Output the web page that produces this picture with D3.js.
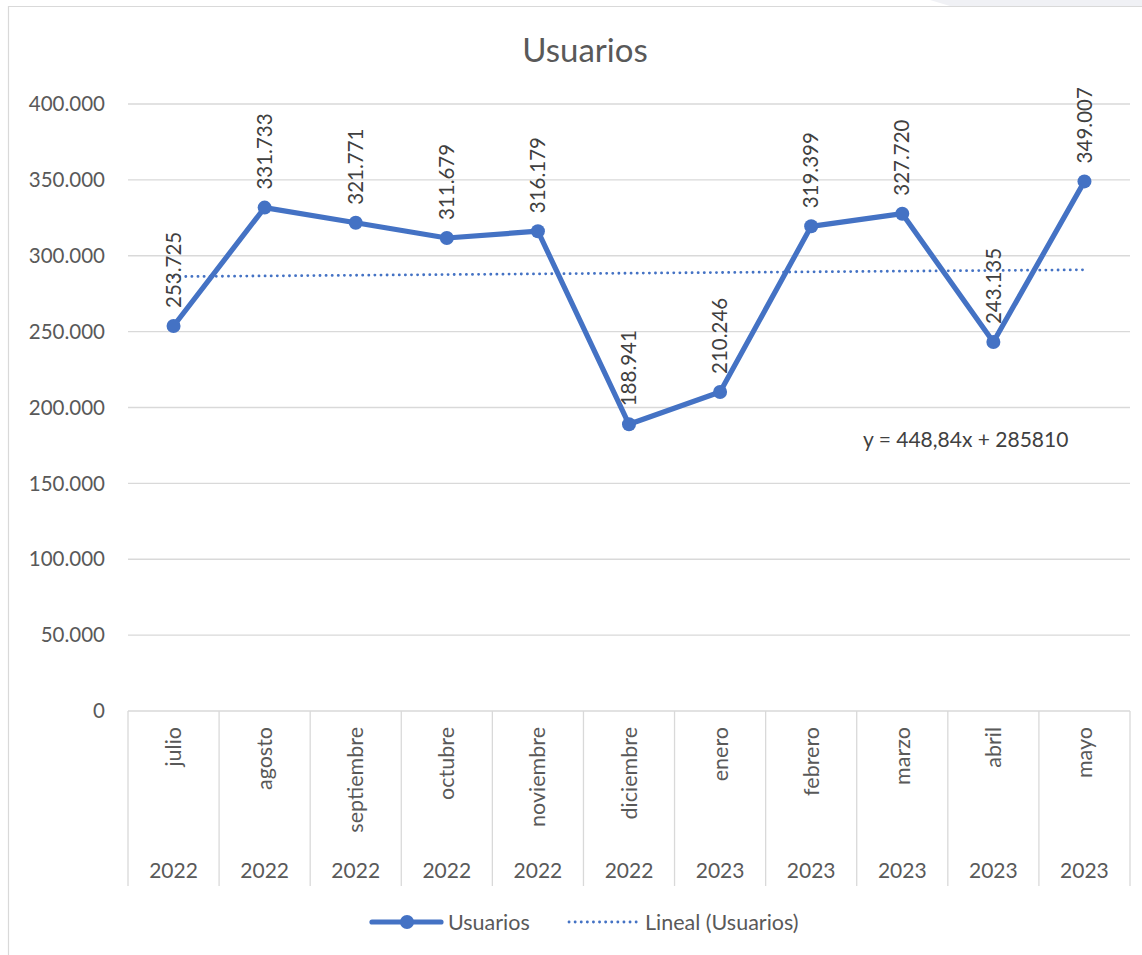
<!DOCTYPE html>
<html><head><meta charset="utf-8">
<script src="https://cdn.jsdelivr.net/npm/d3@7"></script>
<style>body{margin:0;background:#fff;} svg{display:block;font-family:Lato,"Open Sans",sans-serif;}</style>
</head><body>
<script>
const months = ["julio","agosto","septiembre","octubre","noviembre","diciembre","enero","febrero","marzo","abril","mayo"];
const years = ["2022","2022","2022","2022","2022","2022","2023","2023","2023","2023","2023"];
const usuarios = [253725,331733,321771,311679,316179,188941,210246,319399,327720,243135,349007];
const yTicks = [0,50000,100000,150000,200000,250000,300000,350000,400000];
const trendSlope = 448.84, trendIntercept = 285810;

const W=1142,H=955;
const svg=d3.select("body").append("svg").attr("width",W).attr("height",H);
const blue="#4472C4", grid="#d9d9d9", txt="#595959";

svg.append("polygon").attr("points","930,0 1142,0 1142,6 950,6").attr("fill","#f0f1f5");
svg.append("path").attr("d","M8.5,955 V6.5 H1142").attr("fill","none").attr("stroke",grid).attr("stroke-width",1.2);

const x0=128,x1=1130,yTop=104,yBot=711;
const x=d3.scaleBand().domain(months.map((m,i)=>i)).range([x0,x1]);
const y=d3.scaleLinear().domain([0,400000]).range([yBot,yTop]);
const fmt=v=>v===0?"0":d3.format(",")(v).replace(/,/g,".");

svg.append("g").selectAll("line").data(yTicks.filter(d=>d>0)).join("line")
 .attr("x1",x0).attr("x2",x1).attr("y1",d=>y(d)).attr("y2",d=>y(d))
 .attr("stroke",grid).attr("stroke-width",1.3);
svg.append("g").selectAll("text").data(yTicks).join("text")
 .attr("x",105).attr("y",d=>y(d)).attr("dy","0.35em").attr("text-anchor","end")
 .attr("fill",txt).attr("font-size",20.5).text(fmt);

svg.append("line").attr("x1",x0).attr("x2",x1).attr("y1",yBot).attr("y2",yBot).attr("stroke",grid).attr("stroke-width",1.3);
const bounds=months.map((m,i)=>x(i)).concat([x1]);
svg.append("g").selectAll("line").data(bounds).join("line")
 .attr("x1",d=>d).attr("x2",d=>d).attr("y1",yBot).attr("y2",886)
 .attr("stroke",grid).attr("stroke-width",1.3);
svg.append("g").selectAll("text").data(months).join("text")
 .attr("transform",(d,i)=>`translate(${x(i)+x.bandwidth()/2},727) rotate(-90)`)
 .attr("text-anchor","end").attr("dy","0.35em").attr("fill",txt).attr("font-size",21.5).text(d=>d);
svg.append("g").selectAll("text").data(years).join("text")
 .attr("x",(d,i)=>x(i)+x.bandwidth()/2).attr("y",871).attr("dy","0.35em")
 .attr("text-anchor","middle").attr("fill",txt).attr("font-size",21).text(d=>d);

const cx=i=>x(i)+x.bandwidth()/2;
svg.append("line").attr("x1",cx(0)).attr("x2",cx(10))
 .attr("y1",y(trendSlope*1+trendIntercept)).attr("y2",y(trendSlope*11+trendIntercept))
 .attr("stroke",blue).attr("stroke-width",2.8).attr("stroke-dasharray","0.1 6").attr("stroke-linecap","round");

svg.append("path").datum(usuarios).attr("fill","none").attr("stroke",blue).attr("stroke-width",5.2)
 .attr("stroke-linejoin","round")
 .attr("d",d3.line().x((d,i)=>cx(i)).y(d=>y(d)));
svg.append("g").selectAll("circle").data(usuarios).join("circle")
 .attr("cx",(d,i)=>cx(i)).attr("cy",d=>y(d)).attr("r",7).attr("fill",blue);
svg.append("g").selectAll("text").data(usuarios).join("text")
 .attr("transform",(d,i)=>`translate(${cx(i)},${y(d)-18}) rotate(-90)`)
 .attr("text-anchor","start").attr("dy","0.35em").attr("fill","#404040").attr("font-size",20.5).text(fmt);

svg.append("text").attr("x",863).attr("y",440).attr("dy","0.35em").attr("fill","#404040").attr("font-size",21)
 .text("y = 448,84x + 285810");

svg.append("text").attr("x",585).attr("y",50).attr("dy","0.35em").attr("text-anchor","middle")
 .attr("fill",txt).attr("font-size",33).text("Usuarios");

const lg=svg.append("g");
lg.append("line").attr("x1",372).attr("x2",441).attr("y1",922).attr("y2",922).attr("stroke",blue).attr("stroke-width",5.2).attr("stroke-linecap","round");
lg.append("circle").attr("cx",407).attr("cy",922).attr("r",7).attr("fill",blue);
lg.append("text").attr("x",448).attr("y",922).attr("dy","0.35em").attr("fill",txt).attr("font-size",21.5).text("Usuarios");
lg.append("line").attr("x1",569).attr("x2",638).attr("y1",922).attr("y2",922).attr("stroke",blue).attr("stroke-width",2.8).attr("stroke-dasharray","0.1 6").attr("stroke-linecap","round");
lg.append("text").attr("x",645).attr("y",922).attr("dy","0.35em").attr("fill",txt).attr("font-size",21.5).text("Lineal (Usuarios)");
</script>
</body></html>
